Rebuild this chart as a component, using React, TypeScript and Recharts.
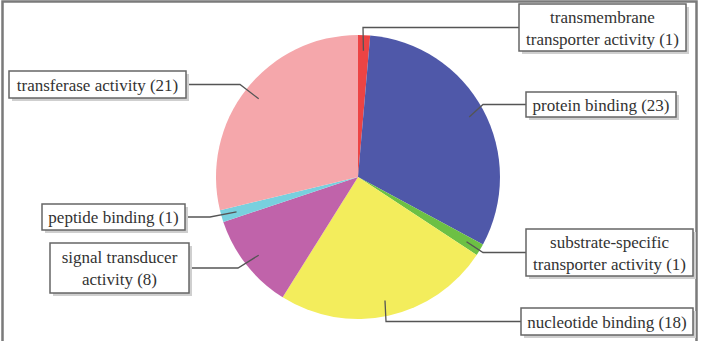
import { PieChart, Pie, Cell } from "recharts";

// GO molecular function categories, clockwise from 12 o'clock
const categories = [
  "transmembrane transporter activity",
  "protein binding",
  "substrate-specific transporter activity",
  "nucleotide binding",
  "signal transducer activity",
  "peptide binding",
  "transferase activity",
];
const counts = [1, 23, 1, 18, 8, 1, 21];
const colors = ["#ec4444", "#4f58a9", "#6cc044", "#f3ed5c", "#c063aa", "#78d0de", "#f5a7ab"];

// label box layout (px), elbow x for the leader line, words on first line
const boxes = [
  { x: 519, y: 4, w: 167, h: 47, elbowX: 363, firstLine: 1 },
  { x: 526, y: 92, w: 150, h: 25, elbowX: 483, firstLine: 0 },
  { x: 526, y: 229, w: 167, h: 47, elbowX: 483, firstLine: 1 },
  { x: 521, y: 308, w: 172, h: 27, elbowX: 386, firstLine: 0 },
  { x: 50, y: 243, w: 139, h: 50, elbowX: 238, firstLine: 2 },
  { x: 42, y: 204, w: 143, h: 26, elbowX: 210, firstLine: 0 },
  { x: 9, y: 71, w: 177, h: 27, elbowX: 240, firstLine: 0 },
];

const data = categories.map((name, i) => ({ name, value: counts[i] }));

const RAD = Math.PI / 180;

function renderLabel(props: any) {
  const { cx, cy, midAngle, outerRadius, index, name, value } = props;
  const b = boxes[index];
  const r = outerRadius * 0.89;
  const px = cx + r * Math.cos(-midAngle * RAD);
  const py = cy + r * Math.sin(-midAngle * RAD);
  const midY = b.y + b.h / 2;
  const onRight = b.x > cx;
  const boxEdge = onRight ? b.x : b.x + b.w;
  const words = `${name} (${value})`.split(" ");
  const lines =
    b.firstLine > 0
      ? [words.slice(0, b.firstLine).join(" "), words.slice(b.firstLine).join(" ")]
      : [words.join(" ")];
  const lh = 22;
  const startY = midY - ((lines.length - 1) * lh) / 2;
  return (
    <g key={`lbl-${index}`}>
      <polyline
        points={`${px},${py} ${b.elbowX},${midY} ${boxEdge},${midY}`}
        fill="none"
        stroke="#555"
        strokeWidth={1.3}
      />
      <rect x={b.x + 3} y={b.y + 3} width={b.w} height={b.h} fill="#cfcfcf" />
      <rect x={b.x} y={b.y} width={b.w} height={b.h} fill="#fff" stroke="#666" strokeWidth={1.5} />
      {lines.map((ln, k) => (
        <text
          key={k}
          x={b.x + b.w / 2}
          y={startY + k * lh + 6}
          textAnchor="middle"
          fontFamily="Liberation Serif"
          fontSize={17}
          fill="#333"
        >
          {ln}
        </text>
      ))}
    </g>
  );
}

export default function App() {
  return (
    <div style={{ position: "absolute", left: 0, top: 0, width: 705, height: 341, background: "#fff", overflow: "hidden" }}>
      <svg width={705} height={341} style={{ position: "absolute", left: 0, top: 0 }}>
        <rect x={2.5} y={1.5} width={694} height={360} fill="none" stroke="#7a7a7a" strokeWidth={2.5} />
      </svg>
      <div style={{ position: "absolute", left: 0, top: 0 }}>
        <PieChart width={705} height={341} margin={{ top: 0, right: 0, bottom: 0, left: 0 }}>
          <Pie
            data={data}
            dataKey="value"
            nameKey="name"
            cx={358}
            cy={177}
            outerRadius={142}
            startAngle={90}
            endAngle={-270}
            stroke="none"
            label={renderLabel}
            labelLine={false}
            isAnimationActive={false}
          >
            {data.map((d, i) => (
              <Cell key={d.name} fill={colors[i]} />
            ))}
          </Pie>
        </PieChart>
      </div>
    </div>
  );
}
